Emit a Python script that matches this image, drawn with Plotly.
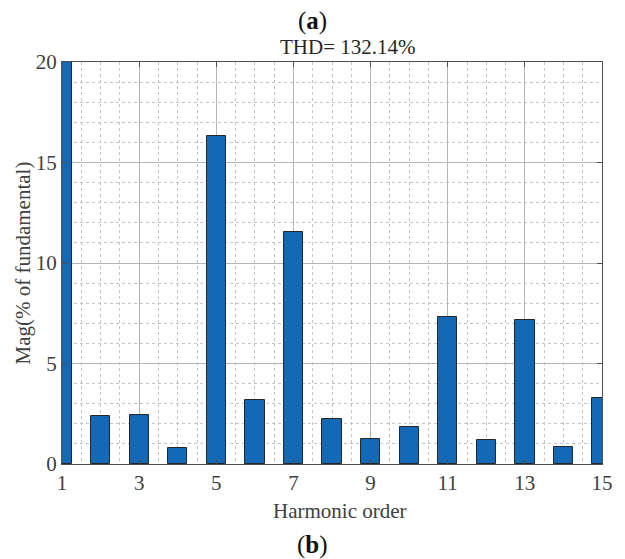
import plotly.graph_objects as go

harmonic_order = [1, 2, 3, 4, 5, 6, 7, 8, 9, 10, 11, 12, 13, 14, 15]
magnitude = [100, 2.37, 2.42, 0.79, 16.31, 3.16, 11.56, 2.24, 1.25, 1.82, 7.30, 1.21, 7.15, 0.87, 3.29]
x_ticks = [1, 3, 5, 7, 9, 11, 13, 15]
y_ticks = [0, 5, 10, 15, 20]

FONT = "Liberation Serif"
TXT = "#404040"
FS = 21

W, H = 625, 559
ML, MR, MT, MB = 62, 16, 62, 95
PW, PH = W - ML - MR, H - MT - MB


def px_to_paper_x(px):
    return (px - ML) / PW


def px_to_paper_y(py):
    return (H - MB - py) / PH


fig = go.Figure()
fig.add_trace(go.Bar(
    x=harmonic_order, y=magnitude, width=0.5,
    marker=dict(color="#1469b6", line=dict(color="#262626", width=1)),
    cliponaxis=True,
))

axis_common = dict(
    showline=True, linecolor="#4d4d4d", linewidth=1, mirror="ticks",
    ticks="inside", ticklen=5, tickcolor="#4d4d4d", tickwidth=1,
    showgrid=True, gridcolor="#b5b5b5", gridwidth=1,
    zeroline=False,
    tickfont=dict(family=FONT, size=FS, color=TXT),
)

fig.update_xaxes(
    range=[1, 15], tickvals=x_ticks, ticktext=[str(v) for v in x_ticks],
    minor=dict(dtick=0.5, showgrid=True, gridcolor="#c4c4c4", griddash="dot", gridwidth=1, ticks=""),
    **axis_common,
)
fig.update_yaxes(
    range=[0, 20], tickvals=y_ticks, ticktext=[str(v) for v in y_ticks],
    minor=dict(dtick=1, showgrid=True, gridcolor="#c4c4c4", griddash="dot", gridwidth=1, ticks=""),
    ticklabelstandoff=0,
    **axis_common,
)

def note(text, px, py, size, color, angle=0):
    return dict(text=text, x=px_to_paper_x(px), y=px_to_paper_y(py), xref="paper", yref="paper",
                xanchor="center", yanchor="middle", showarrow=False, textangle=angle,
                font=dict(family=FONT, size=size, color=color))

fig.update_layout(
    width=W, height=H,
    margin=dict(l=ML, r=MR, t=MT, b=MB),
    plot_bgcolor="white", paper_bgcolor="white",
    showlegend=False,
    annotations=[
        note("(<b>a</b>)", 316, 21, 25, "#111"),
        note("THD= 132.14%", 352, 47, FS, "#262626"),
        note("Harmonic order", 344, 511, FS, TXT),
        note("Mag(% of fundamental)", 22, 263, FS, TXT, -90),
        note("(<b>b</b>)", 316, 545, 25, "#111"),
    ],
    bargap=0,
)

fig.write_html("out.html")
